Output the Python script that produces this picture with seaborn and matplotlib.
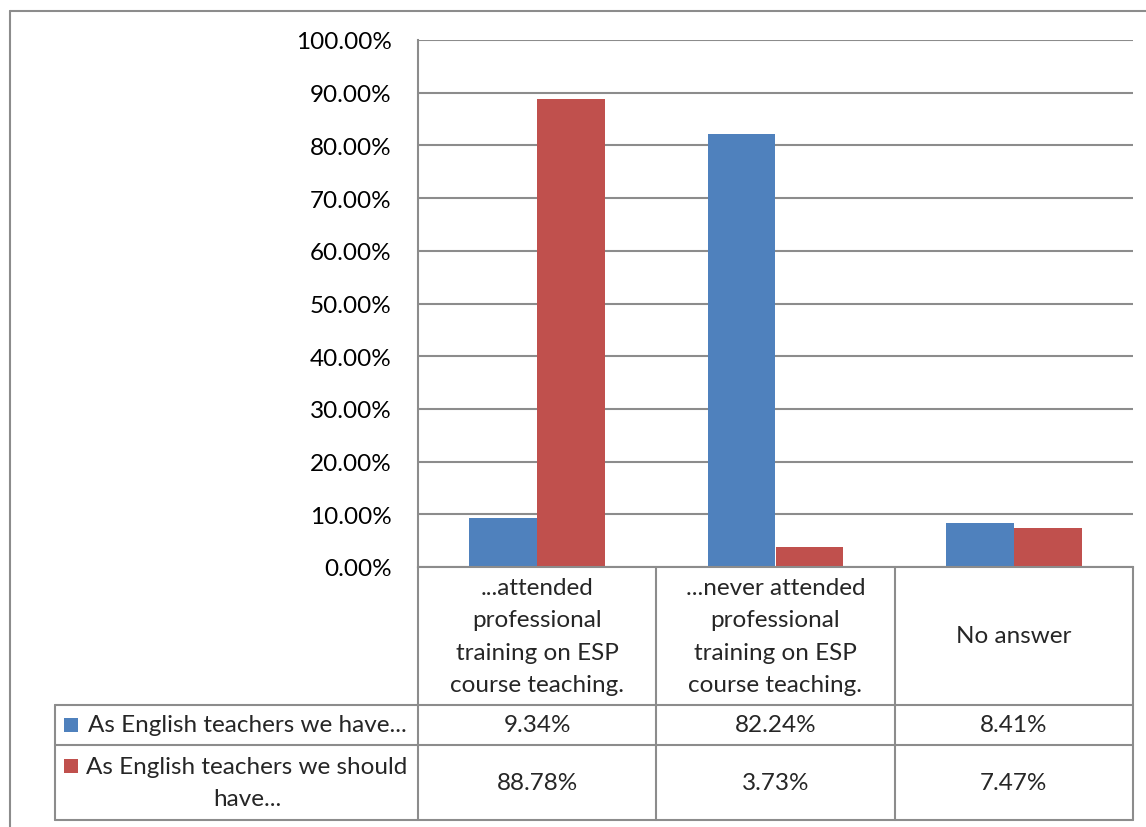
import matplotlib
matplotlib.use("Agg")
import matplotlib.pyplot as plt
from matplotlib.lines import Line2D
from matplotlib.patches import Rectangle
from matplotlib.ticker import FuncFormatter
import pandas as pd
import seaborn as sns

# --- data -------------------------------------------------------------
categories = [
    "...attended\nprofessional\ntraining on ESP\ncourse teaching.",
    "...never attended\nprofessional\ntraining on ESP\ncourse teaching.",
    "No answer",
]
series_names = ["As English teachers we have...", "As English teachers we should have..."]
series_labels = ["As English teachers we have...", "As English teachers we should\nhave..."]
have_values = [0.0934, 0.8224, 0.0841]
should_values = [0.8878, 0.0373, 0.0747]
value_labels = [["9.34%", "82.24%", "8.41%"], ["88.78%", "3.73%", "7.47%"]]
yticks = [0.0, 0.1, 0.2, 0.3, 0.4, 0.5, 0.6, 0.7, 0.8, 0.9, 1.0]

colors = ["#4F81BD", "#C0504D"]
line_gray = "#8C8C8C"

sns.set_theme(style="white")
plt.rcParams["font.family"] = ["Lato", "DejaVu Sans"]

W, H = 1146, 828
fig = plt.figure(figsize=(W / 100, H / 100), dpi=100)


def fx(x):
    return x / W


def fy(y):
    return 1 - y / H


# plot area geometry (pixels)
ax_left, ax_right, ax_top, ax_bottom = 418, 1133, 41, 568
ax = fig.add_axes([fx(ax_left), fy(ax_bottom), fx(ax_right) - fx(ax_left), fy(ax_top) - fy(ax_bottom)])

df = pd.DataFrame({
    "category": categories * 2,
    "series": [series_names[0]] * 3 + [series_names[1]] * 3,
    "value": have_values + should_values,
})

sns.barplot(data=df, x="category", y="value", hue="series", palette=colors,
            width=0.57, saturation=1, ax=ax, legend=False, order=categories,
            hue_order=series_names, edgecolor="none")

fs = 17.5

ax.set_xlim(-0.5, 2.5)
ax.set_ylim(0, 1.0)
ax.set_yticks(yticks)
ax.yaxis.set_major_formatter(FuncFormatter(lambda v, p: f"{v * 100:.2f}%"))
ax.tick_params(axis="y", length=0, pad=19, labelsize=fs, labelcolor="black")
ax.set_xticks([])
ax.set_xlabel("")
ax.set_ylabel("")
ax.grid(axis="y", color=line_gray, linewidth=1.5)
ax.set_axisbelow(True)
for side in ["top", "right"]:
    ax.spines[side].set_visible(False)
for side in ["left", "bottom"]:
    ax.spines[side].set_color(line_gray)
    ax.spines[side].set_linewidth(1.5)


def hline(x0, x1, y, lw=1.5):
    fig.add_artist(Line2D([fx(x0), fx(x1)], [fy(y), fy(y)], color=line_gray, linewidth=lw,
                          transform=fig.transFigure))


def vline(x, y0, y1, lw=1.5):
    fig.add_artist(Line2D([fx(x), fx(x)], [fy(y0), fy(y1)], color=line_gray, linewidth=lw,
                          transform=fig.transFigure))


# outer chart frame
hline(10, W, 12)
vline(10, 12, H)

# data table grid
col_edges = [ax_left + i * (ax_right - ax_left) / 3 for i in range(4)]
row_edges = [568, 706, 746, 821]
tbl_left = 55
for x in col_edges:
    vline(x, row_edges[0], row_edges[-1])
vline(tbl_left, row_edges[1], row_edges[-1])
hline(tbl_left, ax_right, row_edges[1])
hline(tbl_left, ax_right, row_edges[2])
hline(tbl_left, ax_right, row_edges[3])

# category header cells
for i, cat in enumerate(categories):
    cx = (col_edges[i] + col_edges[i + 1]) / 2
    cy = (row_edges[0] + row_edges[1]) / 2
    fig.text(fx(cx), fy(cy), cat, ha="center", va="center", fontsize=fs,
             linespacing=1.66, multialignment="center")

# value rows with legend keys
for r in range(2):
    cy = (row_edges[r + 1] + row_edges[r + 2]) / 2
    for i in range(3):
        cx = (col_edges[i] + col_edges[i + 1]) / 2
        fig.text(fx(cx), fy(cy), value_labels[r][i], ha="center", va="center", fontsize=fs)
    key_y = cy if r == 0 else 767
    fig.add_artist(Rectangle((fx(64), fy(key_y + 7)), fx(14), 14 / H, facecolor=colors[r],
                             edgecolor="none", transform=fig.transFigure))
    fig.text(fx(247), fy(cy), series_labels[r], ha="center", va="center", fontsize=fs,
             linespacing=1.66, multialignment="center")

fig.savefig("out.png", dpi=100, facecolor="white")
